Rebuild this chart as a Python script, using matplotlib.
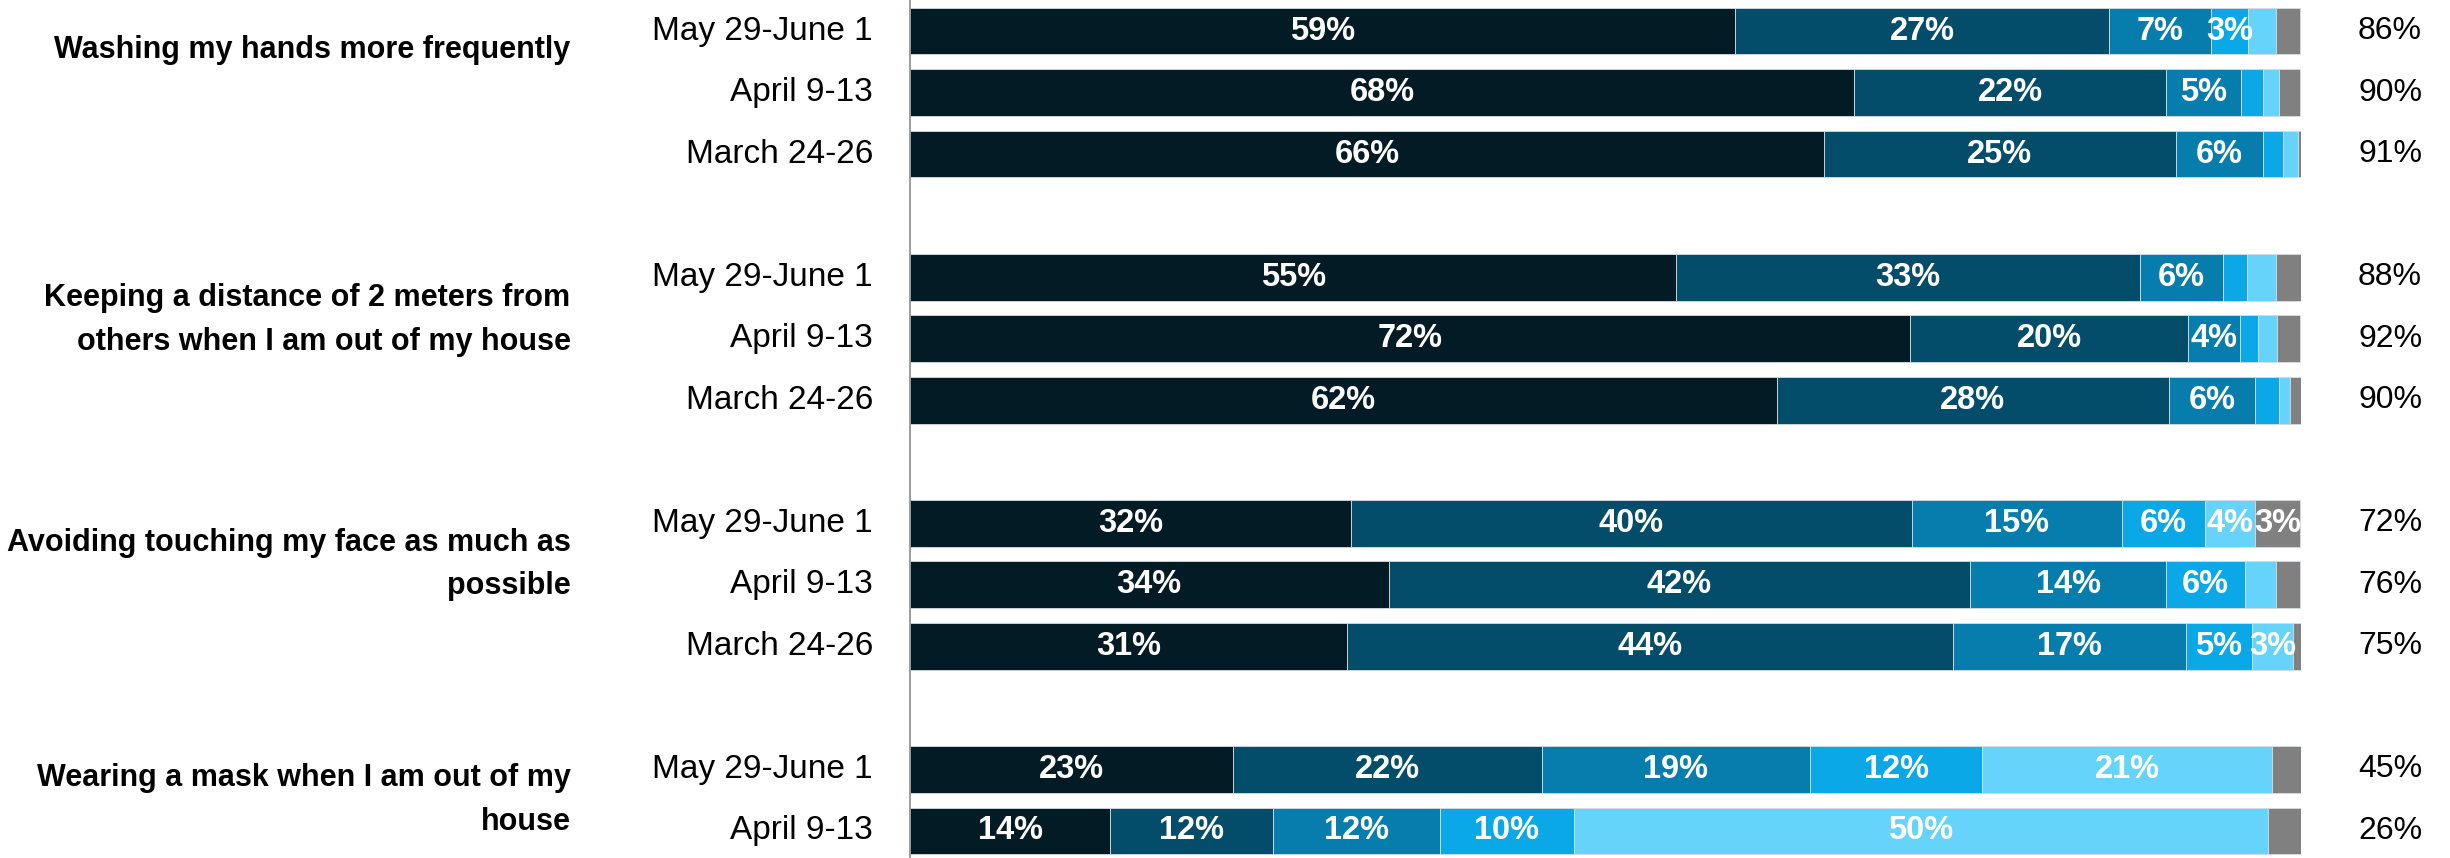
#!/usr/bin/env python3
# -*- coding: utf-8 -*-

import numpy as np
import matplotlib
matplotlib.use("Agg")
import matplotlib.pyplot as plt

plt.rcParams['font.family'] = ['Liberation Sans', 'DejaVu Sans']

# Data (percent of respondents, one list per answer level)
behaviours = ["Washing my hands more frequently",
              "Keeping a distance of 2 meters from\nothers when I am out of my house",
              "Avoiding touching my face as much as\npossible",
              "Wearing a mask when I am out of my\nhouse"]
waves = ["May 29-June 1", "April 9-13", "March 24-26",
         "May 29-June 1", "April 9-13", "March 24-26",
         "May 29-June 1", "April 9-13", "March 24-26",
         "May 29-June 1", "April 9-13"]
group_of_row = [0, 0, 0, 1, 1, 1, 2, 2, 2, 3, 3]

level_1 = [59.3, 67.9, 65.7, 55.1, 71.9, 62.3, 31.7, 34.4, 31.4, 23.2, 14.4]
level_2 = [26.9, 22.4, 25.3, 33.3, 20.0, 28.2, 40.3, 41.8, 43.6, 22.2, 11.7]
level_3 = [7.3, 5.4, 6.3, 6.0, 3.7, 6.2, 15.1, 14.1, 16.7, 19.3, 12.0]
level_4 = [2.7, 1.6, 1.4, 1.7, 1.3, 1.7, 6.0, 5.7, 4.8, 12.4, 9.6]
level_5 = [2.0, 1.1, 1.1, 2.1, 1.4, 0.8, 3.6, 2.2, 2.9, 20.8, 49.9]
dont_know = [1.7, 1.5, 0.2, 1.9, 1.6, 0.9, 3.2, 1.7, 0.6, 2.2, 2.4]
totals = [86, 90, 91, 88, 92, 90, 72, 76, 75, 45, 26]

colors = ["#031b25", "#044d6a", "#067dac", "#0aa8e6", "#65d3fa", "#808080"]


def main():
    fig = plt.figure(figsize=(24.5, 8.58), dpi=100)
    ax = fig.add_axes([910 / 2450, 0, (2301 - 910) / 2450, 1])

    # one empty slot between groups
    ypos = np.array([i + g for i, g in enumerate(group_of_row)], dtype=float)

    series = [level_1, level_2, level_3, level_4, level_5, dont_know]
    left = np.zeros(len(waves))
    for vals, col in zip(series, colors):
        vals = np.array(vals)
        ax.barh(ypos, vals, left=left, height=0.76, color=col,
                edgecolor="#d5dde2", linewidth=0.6)
        for y, l, v in zip(ypos, left, vals):
            if v >= 2.5:
                ax.text(l + v / 2, y, "%d%%" % round(v), ha="center", va="center",
                        color="white", fontsize=23.5, fontweight="bold")
        left += vals

    for y, w, t in zip(ypos, waves, totals):
        ax.text(-2.66, y, w, ha="right", va="center", fontsize=24, clip_on=False)
        ax.text(104.1, y, "%d%%" % t, ha="left", va="center", fontsize=23, clip_on=False)

    label_y = [0.31, 4.70, 8.67, 12.5]
    for b, y in zip(behaviours, label_y):
        ax.text(-24.4, y, b, ha="right", va="center", fontsize=22, fontweight="bold",
                linespacing=1.6, clip_on=False)

    ax.set_xlim(0, 100)
    ax.set_ylim(13.44, -0.504)
    for s in ["top", "right", "bottom"]:
        ax.spines[s].set_visible(False)
    ax.spines["left"].set_color("#8c8c8c")
    ax.spines["left"].set_linewidth(1.2)
    ax.set_xticks([])
    ax.set_yticks([])

    plt.savefig("out.png", dpi=100)


if __name__ == "__main__":
    main()
